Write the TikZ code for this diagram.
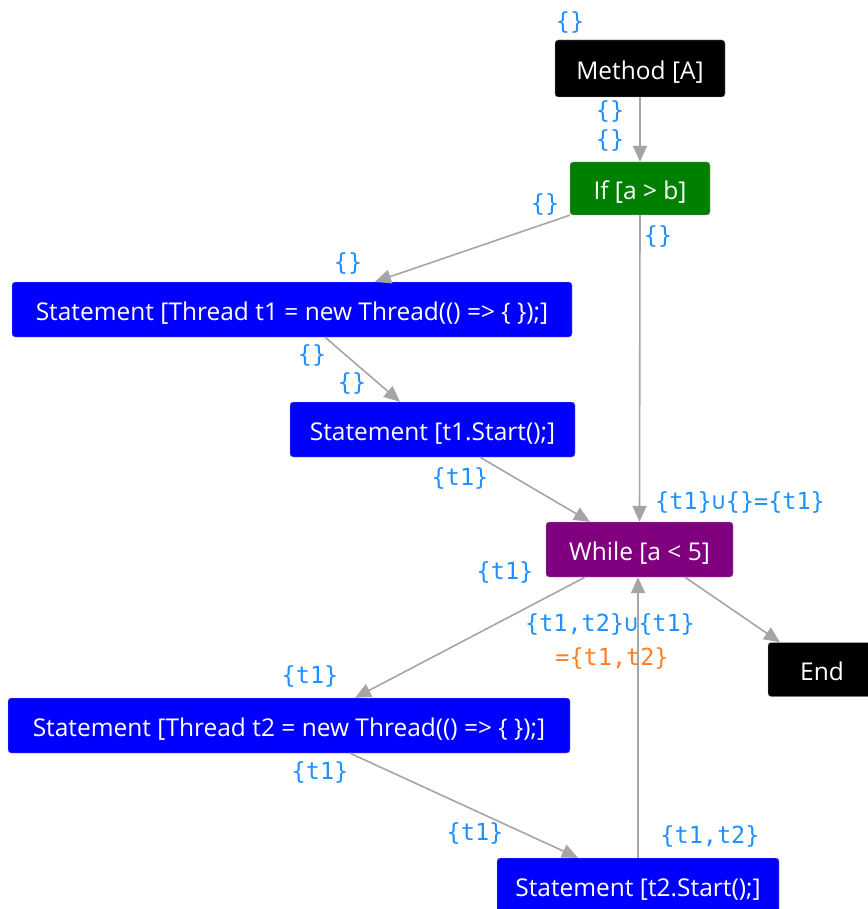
\documentclass[tikz,border=0pt]{standalone}
\usepackage{fontspec}
\setmainfont{Open Sans}
\setmonofont{DejaVu Sans Mono}
\usetikzlibrary{arrows.meta}
\definecolor{flowgray}{RGB}{165,165,165}
\definecolor{setblue}{RGB}{30,144,255}
\definecolor{setorange}{RGB}{255,127,39}
\definecolor{ifgreen}{RGB}{0,128,0}
\definecolor{loopviolet}{RGB}{128,0,128}
\tikzset{
  block/.style={draw=gray!70, rounded corners=3pt, text=white, font=\fontsize{24.5}{28}\selectfont, inner sep=0pt, text height=24pt, text depth=2.5pt, minimum height=55pt},
  flow/.style={draw=flowgray, line width=1.6pt, -{Triangle[length=16pt,width=14pt]}},
  setlbl/.style={text=setblue, font=\ttfamily\fontsize{23.5}{26}\selectfont, inner sep=0pt}
}
\begin{document}
\begin{tikzpicture}[x=1pt,y=-1pt] 
  \useasboundingbox (0,0) rectangle (867,909); 
  % nodes
  \node[block, fill=black, minimum width=170pt, minimum height=57pt] (meth) at (640,68.5) {Method [A]}; 
  \node[block, fill=ifgreen, minimum width=140pt, minimum height=53pt] (cond) at (640,188.5) {If [a > b]}; 
  \node[block, fill=blue, minimum width=560pt] (newa) at (292,309.5) {Statement [Thread t1 = new Thread(() => \{ \});]}; 
  \node[block, fill=blue, minimum width=285pt] (starta) at (432.5,429.5) {Statement [t1.Start();]}; 
  \node[block, fill=loopviolet, minimum width=187pt] (loop) at (639.5,549.5) {While [a < 5]}; 
  \node[block, fill=black, minimum width=108pt, minimum height=54pt] (fin) at (822,669.5) {End}; 
  \node[block, fill=blue, minimum width=562pt] (newb) at (289,725.5) {Statement [Thread t2 = new Thread(() => \{ \});]}; 
  \node[block, fill=blue, minimum width=282pt] (startb) at (638,885.5) {Statement [t2.Start();]}; 
  % edges
  \draw[flow] (meth.south) -- (cond.north); 
  \draw[flow] (cond.south west) -- (newa.north -| 375,0); 
  \draw[flow] (cond.south) -- (loop.north); 
  \draw[flow] (newa.south -| 325,0) -- (starta.north -| 400,0); 
  \draw[flow] (starta.south -| 480,0) -- (loop.north -| 590,0); 
  \draw[flow] (loop.south -| 585,0) -- (newb.north -| 355,0); 
  \draw[flow] (loop.south -| 685,0) -- (fin.north -| 780,0); 
  \draw[flow] (newb.south -| 350,0) -- (startb.north -| 578,0); 
  \draw[flow] (startb.north -| 638,0) -- (loop.south -| 638,0); 
  % sets
  \node[setlbl] (s0) at (570,22) {\{\}}; 
  \node[setlbl] (s1) at (610,111) {\{\}}; 
  \node[setlbl] (s2) at (610,140) {\{\}}; 
  \node[setlbl] (s3) at (545,204) {\{\}}; 
  \node[setlbl] (s4) at (658,236) {\{\}}; 
  \node[setlbl] (s5) at (348,263) {\{\}}; 
  \node[setlbl] (s6) at (312,355) {\{\}}; 
  \node[setlbl] (s7) at (352,383) {\{\}}; 
  \node[setlbl] (s8) at (460,478) {\{t1\}}; 
  \node[setlbl] (s9) at (740,502) {\{t1\}∪\{\}=\{t1\}}; 
  \node[setlbl] (s10) at (505,572) {\{t1\}}; 
  \node[setlbl] (s11) at (610,624) {\{t1,t2\}∪\{t1\}}; 
  \node[setlbl, text=setorange] (s12) at (612,658) {=\{t1,t2\}}; 
  \node[setlbl] (s13) at (310,676) {\{t1\}}; 
  \node[setlbl] (s14) at (320,772) {\{t1\}}; 
  \node[setlbl] (s15) at (475,833) {\{t1\}}; 
  \node[setlbl] (s16) at (710,836) {\{t1,t2\}}; 
\end{tikzpicture}
\end{document}
